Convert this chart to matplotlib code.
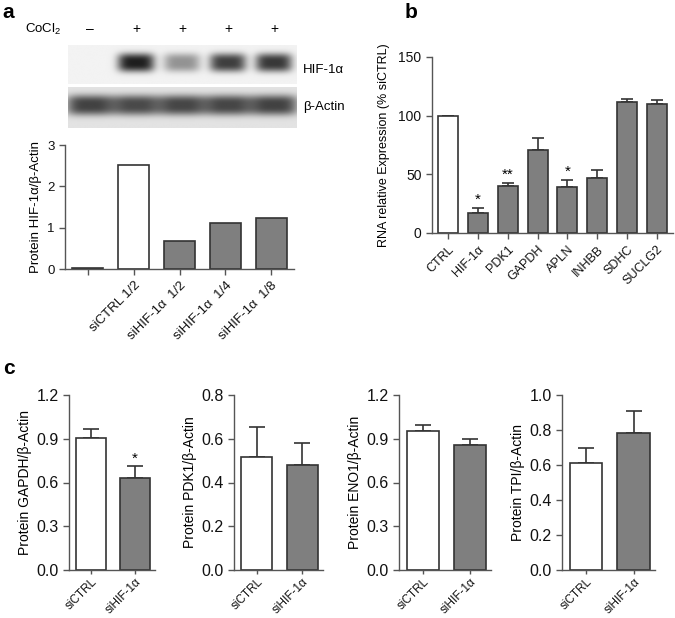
import numpy as np
import matplotlib
matplotlib.use('Agg')
import matplotlib.pyplot as plt
import matplotlib.transforms as mtransforms

plt.rcParams['font.family'] = ['Liberation Sans', 'DejaVu Sans']
plt.rcParams['mathtext.fontset'] = 'custom'
plt.rcParams['mathtext.rm'] = 'Liberation Sans'

# ---- data ----
# panel a: western blot + quantification
cocl2 = ['–', '+', '+', '+', '+']
hif_band = [0.0, 1.0, 0.45, 0.85, 0.88]       # band darkness, HIF-1a
actin_band = [0.82, 0.78, 0.80, 0.80, 0.82]   # band darkness, beta-actin
a_labels = ['', 'siCTRL 1/2', 'siHIF-1α  1/2', 'siHIF-1α  1/4', 'siHIF-1α  1/8']
a_values = [0.02, 2.52, 0.68, 1.11, 1.24]

# panel b: RNA expression
b_labels = ['CTRL', 'HIF-1α', 'PDK1', 'GAPDH', 'APLN', 'INHBB', 'SDHC', 'SUCLG2']
b_values = [100, 17, 40, 71, 39.5, 47, 112, 110]
b_err = [0, 4, 2.5, 10, 6, 7, 2, 3]
b_stars = ['', '*', '**', '', '*', '', '', '']

# panel c: protein levels
c_labels = ['siCTRL', 'siHIF-1α']
c_names = ['GAPDH', 'PDK1', 'ENO1', 'TPI']
c_values = [[0.905, 0.63], [0.515, 0.48], [0.95, 0.86], [0.61, 0.785]]
c_err = [[0.06, 0.08], [0.14, 0.10], [0.045, 0.035], [0.09, 0.125]]
c_stars = [['', '*'], ['', ''], ['', ''], ['', '']]
c_ylim = [1.2, 0.8, 1.2, 1.0]
c_ticks = [[0, 0.3, 0.6, 0.9, 1.2], [0, 0.2, 0.4, 0.6, 0.8],
           [0, 0.3, 0.6, 0.9, 1.2], [0, 0.2, 0.4, 0.6, 0.8, 1.0]]

W, H = 675.0, 618.0
fig = plt.figure(figsize=(W / 100, H / 100), dpi=100)

def box(l, r, t, b):
    return [l / W, 1 - b / H, (r - l) / W, (b - t) / H]

axcol = '#555555'
grey = '#7f7f7f'
edge = '#333333'

def style(ax, fs):
    for s in ['top', 'right']:
        ax.spines[s].set_visible(False)
    for s in ['left', 'bottom']:
        ax.spines[s].set_color(axcol)
        ax.spines[s].set_linewidth(1.0)
    ax.tick_params(colors=axcol, labelcolor='#111111', length=4, width=1.0, labelsize=fs)

# ---- panel a: blot ----
def blot(ax, amps, yc, hy, hx, bg):
    xs = np.linspace(-0.48, 4.5, 460)
    ys = np.linspace(0, 1, 80)
    X, Y = np.meshgrid(xs, ys)
    I = np.zeros_like(X)
    for i, a in enumerate(amps):
        I += a * np.exp(-np.abs((X - i) / hx) ** 4) * np.exp(-np.abs((Y - yc) / hy) ** 3)
    I = np.clip(I, 0, 1)
    img = bg - (bg - 0.12) * I
    ax.imshow(img, cmap='gray', vmin=0, vmax=1, origin='lower', aspect='auto',
              extent=[-0.48, 4.5, 0, 1])
    ax.set_xlim(-0.48, 4.5)
    ax.set_ylim(0, 1)
    ax.axis('off')

ax_up = fig.add_axes(box(68, 297, 45, 84))
blot(ax_up, hif_band, 0.55, 0.24, 0.4, 0.95)
ax_lo = fig.add_axes(box(68, 297, 87, 128))
blot(ax_lo, actin_band, 0.56, 0.25, 0.52, 0.89)

trans = mtransforms.blended_transform_factory(ax_up.transData, fig.transFigure)
for i, s in enumerate(cocl2):
    ax_up.text(i, 1 - 29 / H, s, transform=trans, ha='center', va='center', fontsize=10)
fig.text(25 / W, 1 - 29 / H, 'CoCl$_2$', ha='left', va='center', fontsize=9.5)
fig.text(303 / W, 1 - 70 / H, 'HIF-1α', ha='left', va='center', fontsize=9.5)
fig.text(303 / W, 1 - 107 / H, 'β-Actin', ha='left', va='center', fontsize=9.5)

# ---- panel a: bars ----
ax_a = fig.add_axes(box(65, 294, 145, 269))
xa = np.arange(len(a_values))
a_colors = ['white', 'white', grey, grey, grey]
ax_a.bar(xa, a_values, width=0.68, color=a_colors, edgecolor=edge, linewidth=1.2)
ax_a.set_xlim(-0.5, 4.5)
ax_a.set_ylim(0, 3)
ax_a.set_yticks([0, 1, 2, 3])
ax_a.set_xticks(xa)
ax_a.set_xticklabels(a_labels, rotation=45, ha='right', rotation_mode='anchor')
ax_a.set_ylabel('Protein HIF-1α/β-Actin', fontsize=9.5, labelpad=4)
style(ax_a, 9.5)

# ---- panel b ----
ax_b = fig.add_axes(box(432, 673, 57, 233))
xb = np.arange(len(b_values))
b_colors = ['white'] + [grey] * (len(b_values) - 1)
ax_b.bar(xb, b_values, width=0.68, color=b_colors, edgecolor=edge, linewidth=1.2, zorder=2)
ax_b.errorbar(xb, b_values, yerr=[np.zeros(len(b_err)), b_err], fmt='none',
              ecolor=edge, elinewidth=1.2, capsize=4, capthick=1.2, zorder=1)
for i, s in enumerate(b_stars):
    if s:
        ax_b.text(i, b_values[i] + b_err[i] + 1, s, ha='center', va='bottom', fontsize=11)
ax_b.set_xlim(-0.55, 7.55)
ax_b.set_ylim(0, 150)
ax_b.set_yticks([0, 50, 100, 150])
ax_b.set_xticks(xb)
ax_b.set_xticklabels(b_labels, rotation=45, ha='right', rotation_mode='anchor')
ax_b.set_ylabel('RNA relative Expression (% siCTRL)', fontsize=9, labelpad=6)
style(ax_b, 10)
ax_b.tick_params(axis='x', labelsize=9)

# ---- panel c ----
c_boxes = [(69, 155), (234, 323), (399, 491), (562, 655)]
for k in range(4):
    l, r = c_boxes[k]
    ax = fig.add_axes(box(l, r, 395, 570))
    xc = np.arange(2)
    ax.bar(xc, c_values[k], width=0.68, color=['white', grey], edgecolor=edge,
           linewidth=1.2, zorder=2)
    ax.errorbar(xc, c_values[k], yerr=[np.zeros(2), c_err[k]], fmt='none',
                ecolor=edge, elinewidth=1.2, capsize=6, capthick=1.2, zorder=1)
    for i, s in enumerate(c_stars[k]):
        if s:
            ax.text(i, c_values[k][i] + c_err[k][i] + 0.003 * c_ylim[k], s,
                    ha='center', va='bottom', fontsize=11)
    ax.set_xlim(-0.5, 1.45)
    ax.set_ylim(0, c_ylim[k])
    ax.set_yticks(c_ticks[k])
    ax.set_yticklabels(['%.1f' % t for t in c_ticks[k]])
    ax.set_xticks(xc)
    ax.set_xticklabels(c_labels, rotation=45, ha='right', rotation_mode='anchor')
    ax.set_ylabel('Protein %s/β-Actin' % c_names[k], fontsize=10, labelpad=3)
    style(ax, 11.5)
    ax.tick_params(axis='x', labelsize=8.5, length=3, pad=1)

# panel letters
fig.text(2 / W, 1 - 12 / H, 'a', fontsize=15, weight='bold', va='center')
fig.text(405 / W, 1 - 12 / H, 'b', fontsize=15, weight='bold', va='center')
fig.text(3 / W, 1 - 368 / H, 'c', fontsize=15, weight='bold', va='center')

fig.savefig('out.png', dpi=100)
